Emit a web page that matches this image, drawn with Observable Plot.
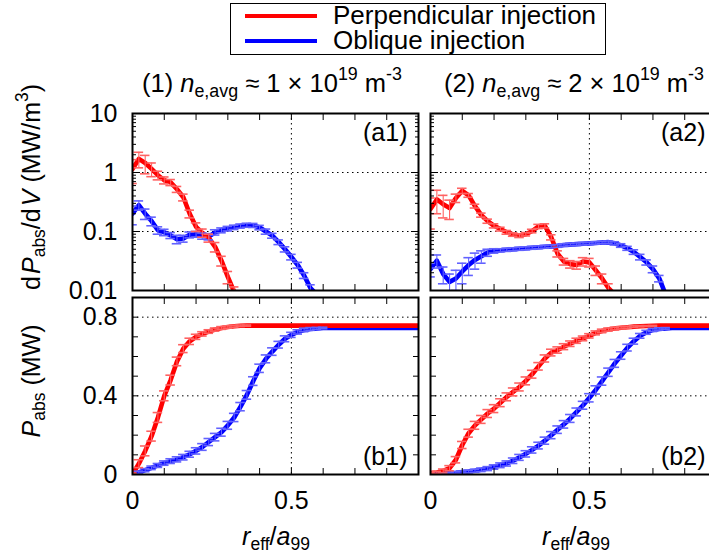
<!DOCTYPE html>
<html><head><meta charset="utf-8">
<script src="https://cdn.jsdelivr.net/npm/d3@7"></script>
<script src="https://cdn.jsdelivr.net/npm/@observablehq/plot@0.6"></script>
<style>
html,body{margin:0;padding:0;background:#fff;overflow:hidden;}
#fig{position:relative;width:709px;height:560px;overflow:hidden;font-family:"Liberation Sans",Arial,Helvetica,sans-serif;color:#000;background:#fff;}
.t{position:absolute;white-space:nowrap;line-height:1;font-size:25px;}
.t sub{font-size:0.7em;vertical-align:baseline;position:relative;top:0.3em;}
.t sup{font-size:0.7em;vertical-align:baseline;position:relative;top:-0.7em;}
#legend{position:absolute;left:230px;top:3px;width:376px;height:52px;box-sizing:border-box;border:1px solid #000;background:#fff;}
.sw{position:absolute;left:14px;width:72px;height:4px;}
</style></head><body><div id="fig"></div>
<script>
// r_eff / a99 sample positions
const r = [0,0.02,0.04,0.06,0.08,0.1,0.12,0.14,0.16,0.18,0.2,0.22,0.24,0.26,0.28,0.3,0.32,0.34,0.36,0.38,0.4,0.42,0.44,0.46,0.48,0.5,0.52,0.54,0.56,0.58,0.6,0.62,0.64,0.66,0.68,0.7,0.72,0.74,0.76,0.78,0.8,0.82,0.84,0.86,0.88,0.9];

// (a1) dPabs/dV, ne ~ 1e19
const a1Perp = [1.15,1.7,1.45,1.15,0.9,0.74,0.68,0.52,0.38,0.2,0.12,0.095,0.078,0.055,0.032,0.017,0.0095];
const a1PerpErr = [0.5,0.5,0.5,0.3,0.15,0.1,0.08,0.06,0.05,0.03,0.02,0.015,0.012,0.01,0.006,0.004,0.002];
const a1Obl = [0.2,0.28,0.2,0.15,0.105,0.097,0.086,0.074,0.076,0.088,0.09,0.084,0.082,0.097,0.105,0.112,0.118,0.124,0.128,0.127,0.117,0.1,0.085,0.066,0.05,0.037,0.027,0.018,0.011,0.0085];
const a1OblErr = [0.07,0.05,0.04,0.025,0.015,0.012,0.01,0.012,0.01,0.01,0.01,0.01,0.01,0.01,0.01,0.01,0.01,0.01,0.01,0.01,0.01,0.01,0.008,0.006,0.005,0.004,0.003,0.002,0.0015,0.001];

// (a2) dPabs/dV, ne ~ 2e19
const a2Perp = [0.24,0.35,0.29,0.25,0.37,0.49,0.41,0.27,0.19,0.15,0.125,0.11,0.097,0.089,0.085,0.09,0.102,0.122,0.125,0.08,0.042,0.031,0.028,0.027,0.031,0.03,0.022,0.016,0.011,0.0085];
const a2PerpErr = [0.13,0.15,0.12,0.09,0.06,0.05,0.03,0.02,0.015,0.012,0.01,0.008,0.007,0.006,0.006,0.006,0.007,0.01,0.01,0.008,0.005,0.004,0.004,0.004,0.005,0.005,0.004,0.003,0.002,0.001];
const a2Obl = [0.023,0.032,0.019,0.014,0.016,0.021,0.027,0.033,0.038,0.044,0.047,0.048,0.049,0.05,0.051,0.052,0.053,0.054,0.055,0.056,0.057,0.059,0.06,0.061,0.062,0.063,0.064,0.065,0.066,0.063,0.058,0.052,0.045,0.037,0.03,0.023,0.016,0.0085];
const a2OblErr = [0.006,0.008,0.006,0.005,0.006,0.008,0.009,0.01,0.009,0.006,0.004,0.003,0.003,0.003,0.003,0.003,0.003,0.003,0.003,0.003,0.003,0.003,0.003,0.003,0.003,0.003,0.003,0.003,0.003,0.004,0.004,0.004,0.004,0.004,0.003,0.003,0.002,0.001];

// (b1) Pabs cumulative, ne ~ 1e19
const b1Perp = [0,0.055,0.12,0.195,0.29,0.4,0.48,0.575,0.64,0.677,0.7,0.715,0.727,0.737,0.745,0.75,0.754,0.756,0.757,0.757,0.757,0.757,0.757,0.757,0.757,0.757,0.757,0.757,0.757,0.757,0.757,0.757,0.757,0.757,0.757,0.757,0.757,0.757,0.757,0.757,0.757,0.757,0.757,0.757,0.757,0.757];
const b1PerpErr = [0.006,0.02,0.025,0.025,0.025,0.025,0.025,0.022,0.02,0.016,0.013,0.011,0.009,0.008,0.007,0.006,0.005,0.004,0.003];
const b1Obl = [0,0.011,0.022,0.034,0.046,0.058,0.068,0.077,0.088,0.103,0.12,0.14,0.165,0.19,0.215,0.25,0.29,0.345,0.405,0.475,0.54,0.588,0.625,0.66,0.69,0.71,0.725,0.735,0.74,0.743,0.745,0.745,0.745,0.745,0.745,0.745,0.745,0.745,0.745,0.745,0.745,0.745,0.745,0.745,0.745,0.745];
const b1OblErr = [0.003,0.006,0.008,0.009,0.01,0.011,0.012,0.013,0.014,0.015,0.016,0.017,0.018,0.019,0.02,0.02,0.021,0.021,0.022,0.022,0.021,0.02,0.019,0.017,0.015,0.013,0.011,0.009,0.007,0.005,0.004];

// (b2) Pabs cumulative, ne ~ 2e19
const b2Perp = [0.007,0.01,0.018,0.032,0.075,0.15,0.21,0.25,0.28,0.31,0.335,0.365,0.395,0.42,0.445,0.476,0.51,0.55,0.59,0.62,0.633,0.65,0.665,0.68,0.692,0.705,0.72,0.73,0.737,0.742,0.746,0.749,0.752,0.754,0.755,0.756,0.757,0.757,0.757,0.757,0.757,0.757,0.757,0.757,0.757,0.757];
const b2PerpErr = [0.004,0.006,0.01,0.013,0.016,0.018,0.02,0.02,0.02,0.02,0.02,0.02,0.02,0.02,0.02,0.02,0.02,0.019,0.018,0.017,0.016,0.015,0.014,0.013,0.012,0.011,0.01,0.009,0.008,0.007,0.006,0.005,0.004,0.003,0.002,0.002];
const b2Obl = [0.002,0.003,0.005,0.007,0.009,0.012,0.015,0.019,0.024,0.03,0.038,0.047,0.056,0.07,0.087,0.105,0.125,0.147,0.172,0.2,0.228,0.255,0.285,0.318,0.352,0.39,0.43,0.475,0.52,0.565,0.605,0.645,0.678,0.705,0.723,0.735,0.74,0.743,0.745,0.745,0.745,0.745,0.745,0.745,0.745,0.745];
const b2OblErr = [0.002,0.003,0.003,0.004,0.005,0.006,0.007,0.008,0.009,0.01,0.011,0.012,0.013,0.014,0.015,0.016,0.016,0.017,0.018,0.018,0.019,0.019,0.02,0.02,0.02,0.021,0.021,0.021,0.021,0.02,0.019,0.017,0.015,0.012,0.01,0.008,0.006,0.004];

// ticks
const xTicks = [0,0.1,0.2,0.3,0.4,0.5,0.6,0.7,0.8,0.9];
const xLabels = [0,0.5];
const logMajor = [0.01,0.1,1,10];
const logMinor = [0.02,0.03,0.04,0.05,0.06,0.07,0.08,0.09,0.2,0.3,0.4,0.5,0.6,0.7,0.8,0.9,2,3,4,5,6,7,8,9];
const linTicks = [0,0.1,0.2,0.3,0.4,0.5,0.6,0.7,0.8,0.9];
const linLabels = [0,0.4,0.8];
const logGrid = [0.1,1];
const linGrid = [0.4,0.8];

const seriesNames = ["Perpendicular injection","Oblique injection"];
const RED = "#ff0000", BLUE = "#0000ff";
const RED_BAR = "#ff6262", BLUE_BAR = "#6262ff";
const FONT = '"Liberation Sans", Arial, Helvetica, sans-serif';

function rows(vals, errs) { return vals.map((v, i) => ({x: r[i], v, e: errs[i] ?? 0})); }

const fig = document.getElementById("fig");

function panel(o) {
  const mT = 10, mR = 10, cap = 0.015;
  const W = o.mL + 286 + mR, H = mT + 177 + o.mB;
  const floor = o.log ? 1e-4 : -1;
  const dash = {stroke: "#000", strokeWidth: 1, strokeDasharray: "1.5,3.5"};
  const tk = {stroke: "#000", strokeWidth: 1, tickFormat: () => "", label: null};
  const marks = [
    Plot.ruleX([0.5], dash),
    Plot.ruleY(o.grid, dash)
  ];
  for (const s of o.series) marks.push(Plot.line(s.data, {x: "x", y: "v", stroke: s.color, strokeWidth: 4.6, strokeLinejoin: "round", clip: true}));
  for (const s of o.series) {
    const b = s.data.filter(d => d.e > 0);
    marks.push(Plot.ruleX(b, {x: "x", y1: d => Math.max(d.v - d.e, floor), y2: d => d.v + d.e, stroke: s.bar, strokeWidth: 1.1, clip: true}));
    marks.push(Plot.ruleY(b, {y: d => d.v + d.e, x1: d => d.x - cap, x2: d => d.x + cap, stroke: s.bar, strokeWidth: 1.6, clip: true}));
    marks.push(Plot.ruleY(b.filter(d => d.v - d.e > floor), {y: d => d.v - d.e, x1: d => d.x - cap, x2: d => d.x + cap, stroke: s.bar, strokeWidth: 1.6, clip: true}));
  }
  marks.push(Plot.axisX(xTicks, {anchor: "bottom", tickSize: -6, ...tk}));
  marks.push(Plot.axisX(xTicks, {anchor: "top", tickSize: -6, ...tk}));
  marks.push(Plot.axisY(o.yMajor, {anchor: "left", tickSize: o.log ? -8 : -6, ...tk}));
  marks.push(Plot.axisY(o.yMajor, {anchor: "right", tickSize: o.log ? -8 : -6, ...tk}));
  if (o.yMinor) {
    marks.push(Plot.axisY(o.yMinor, {anchor: "left", tickSize: -4, ...tk}));
    marks.push(Plot.axisY(o.yMinor, {anchor: "right", tickSize: -4, ...tk}));
  }
  marks.push(Plot.frame({stroke: "#000", strokeWidth: 2}));
  if (o.yLab) marks.push(Plot.axisY(o.yLab, {anchor: "left", tickSize: 0, tickPadding: 15, tickFormat: d => String(d), label: null, fontSize: 25}));
  if (o.xLab) marks.push(Plot.axisX(o.xLab, {anchor: "bottom", tickSize: 0, tickPadding: 17, tickFormat: d => String(d), label: null, fontSize: 25}));
  marks.push(Plot.text([o.tag], {text: d => d, frameAnchor: o.tagTop ? "top-right" : "bottom-right", dx: -11, dy: o.tagTop ? 19.5 : -17.3, textAnchor: "end", lineAnchor: "middle", fontSize: 25}));
  const svg = Plot.plot({
    width: W, height: H,
    marginLeft: o.mL, marginRight: mR, marginTop: mT, marginBottom: o.mB,
    x: {domain: [0, 0.9]},
    y: o.log ? {type: "log", domain: [0.01, 10]} : {type: "linear", domain: [0, 0.9]},
    style: {background: "transparent", overflow: "visible", fontFamily: FONT, fontSize: "25px", color: "#000"},
    marks
  });
  svg.style.position = "absolute";
  svg.style.left = o.left + "px";
  svg.style.top = o.top + "px";
  svg.style.maxWidth = "none";
  fig.appendChild(svg);
}

const mk = (p, pe, q, qe) => [
  {name: seriesNames[1], color: BLUE, bar: BLUE_BAR, data: rows(q, qe)},
  {name: seriesNames[0], color: RED, bar: RED_BAR, data: rows(p, pe)}
];

panel({left: 0, top: 103, mL: 132, mB: 10, log: true, grid: logGrid, yMajor: logMajor, yMinor: logMinor, yLab: logMajor, tag: "(a1)", tagTop: true, series: mk(a1Perp, a1PerpErr, a1Obl, a1OblErr)});
panel({left: 420, top: 103, mL: 10, mB: 10, log: true, grid: logGrid, yMajor: logMajor, yMinor: logMinor, tag: "(a2)", tagTop: true, series: mk(a2Perp, a2PerpErr, a2Obl, a2OblErr)});
panel({left: 0, top: 287, mL: 132, mB: 86, log: false, grid: linGrid, yMajor: linTicks, yLab: linLabels, xLab: xLabels, tag: "(b1)", tagTop: false, series: mk(b1Perp, b1PerpErr, b1Obl, b1OblErr)});
panel({left: 420, top: 287, mL: 10, mB: 86, log: false, grid: linGrid, yMajor: linTicks, xLab: xLabels, tag: "(b2)", tagTop: false, series: mk(b2Perp, b2PerpErr, b2Obl, b2OblErr)});

// text overlays
function addText(html, style) {
  const d = document.createElement("div");
  d.className = "t";
  d.innerHTML = html;
  Object.assign(d.style, style);
  fig.appendChild(d);
  return d;
}
// legend
const lg = document.createElement("div");
lg.id = "legend";
lg.innerHTML = `<div class="sw" style="top:10px;background:${RED}"></div><div class="sw" style="top:35px;background:${BLUE}"></div>`;
fig.appendChild(lg);
addText(seriesNames[0], {left: "333px", top: "4px", fontSize: "26px", lineHeight: "0.9"});
addText(seriesNames[1], {left: "333px", top: "29px", fontSize: "26px", lineHeight: "0.9"});
// column titles
addText('(1) <i>n</i><sub>e,avg</sub> ≈ 1 × 10<sup>19</sup> m<sup>-3</sup>', {left: "142px", top: "71px", fontSize: "25.5px"});
addText('(2) <i>n</i><sub>e,avg</sub> ≈ 2 × 10<sup>19</sup> m<sup>-3</sup>', {left: "444px", top: "71px", fontSize: "25.5px"});
// y titles
addText('d&#8202;<i>P</i><sub>abs</sub>/d&#8202;<i>V</i> (MW/m<sup>3</sup>)', {left: "31px", top: "187px", transform: "translate(-50%,-50%) rotate(-90deg)"});
addText('<i>P</i><sub>abs</sub> (MW)', {left: "31px", top: "381px", transform: "translate(-50%,-50%) rotate(-90deg)"});
// x titles
addText('<i>r</i><sub>eff</sub>/<i>a</i><sub>99</sub>', {left: "276px", top: "524px", transform: "translateX(-50%)"});
addText('<i>r</i><sub>eff</sub>/<i>a</i><sub>99</sub>', {left: "576px", top: "524px", transform: "translateX(-50%)"});
</script>
</body></html>
